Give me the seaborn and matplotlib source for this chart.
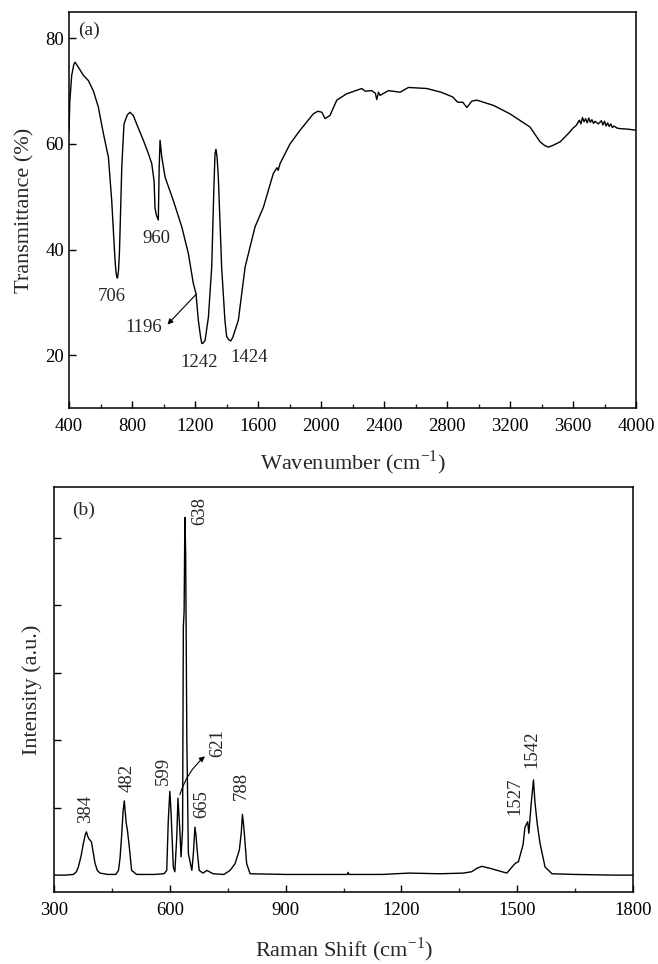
import numpy as np
import pandas as pd
import matplotlib
matplotlib.use("Agg")
import matplotlib.pyplot as plt
import seaborn as sns

# ---------------- data ----------------
ir_wavenumber = [400, 405, 417, 430, 438, 460, 491, 523, 555, 586, 618, 650, 671, 692, 698,
                 703, 708, 714, 720, 735, 749, 770, 787, 808, 840, 872, 900, 925, 940, 946,
                 955, 962, 967, 972, 978, 989, 1010, 1062, 1116, 1158, 1189, 1206, 1221, 1235,
                 1243, 1252, 1264, 1285, 1306, 1320, 1327, 1333, 1340, 1348, 1369, 1390, 1401,
                 1415, 1427, 1440, 1454, 1475, 1518, 1581, 1634, 1697, 1720, 1728,
                 1740, 1803, 1867, 1951, 1980, 2005, 2026, 2057, 2100, 2163, 2259, 2280, 2322,
                 2345, 2354, 2365, 2375, 2428, 2502, 2555, 2672, 2762, 2836, 2868, 2900, 2926,
                 2957, 2989, 3095, 3200, 3327, 3391, 3420, 3444, 3470, 3518, 3571, 3600, 3620,
                 3640, 3650, 3660, 3670, 3680, 3690, 3700, 3710, 3720, 3730, 3740, 3760, 3780,
                 3790, 3800, 3810, 3820, 3830, 3840, 3850, 3860, 3880, 3900, 3950, 4000]
ir_transmittance = [62.5, 68.0, 73.0, 75.0, 75.5, 74.5, 73.0, 72.0, 70.0, 67.0, 62.0, 57.5,
                    49.3, 38.0, 35.8, 34.8, 34.6, 36.0, 39.3, 55.6, 63.8, 65.5, 66.0, 65.4,
                    63.0, 60.7, 58.5, 56.3, 53.0, 47.8, 46.5, 46.0, 45.6, 55.0, 60.7, 57.5,
                    53.7, 49.3, 44.3, 39.2, 33.6, 31.7, 26.6, 23.5, 22.2, 22.3, 22.8, 27.2,
                    36.7, 52.0, 58.2, 59.0, 57.5, 53.7, 36.7, 26.5, 23.5, 22.9, 22.7, 23.4,
                    24.7, 26.6, 36.7, 44.3, 48.0, 54.4, 55.5, 55.0, 56.3, 60.0, 62.6,
                    65.7, 66.2, 66.0, 64.8, 65.4, 68.3, 69.5, 70.5, 70.0, 70.1, 69.6, 68.4,
                    69.8, 69.2, 70.1, 69.8, 70.7, 70.5, 69.8, 68.9, 67.9, 67.9, 66.9, 68.1,
                    68.3, 67.3, 65.7, 63.2, 60.4, 59.7, 59.4, 59.7, 60.4, 62.0, 63.0, 63.5,
                    64.5, 63.8, 65.0, 64.2, 64.8, 64.0, 64.9, 64.1, 64.6, 63.9, 64.3, 63.8,
                    64.4, 63.6, 64.3, 63.4, 64.0, 63.3, 63.8, 63.1, 63.4, 63.0, 62.9, 62.8,
                    62.6]

raman_shift = [300, 330, 350, 358, 363, 370, 376, 381, 384, 387, 390, 393, 397, 402, 406, 412,
               419, 440, 460, 467, 471, 475, 479, 482, 485, 487, 490, 495, 501, 514, 560, 585,
               592, 596, 600, 603, 605, 609, 613, 618, 621, 624, 626, 629, 633, 635, 637, 639,
               641, 644, 648, 657, 661, 665, 668, 670, 676, 686, 696, 712, 740, 756, 769, 780,
               785, 788, 791, 793, 799, 808, 900, 1000, 1060, 1062, 1064, 1150, 1220, 1300,
               1360, 1382, 1395, 1408, 1430, 1473, 1494, 1503, 1515, 1520, 1527, 1530, 1536,
               1542, 1546, 1552, 1559, 1572, 1590, 1650, 1750, 1800]
raman_intensity = [0.0, 0.0, 0.01, 0.05, 0.12, 0.28, 0.47, 0.60, 0.64, 0.58, 0.54, 0.52,
                   0.49, 0.32, 0.18, 0.07, 0.03, 0.01, 0.01, 0.07, 0.25, 0.57, 0.95, 1.10,
                   0.90, 0.77, 0.67, 0.42, 0.07, 0.01, 0.01, 0.02, 0.07, 0.81, 1.24, 0.95,
                   0.67, 0.12, 0.05, 0.57, 1.14, 0.85, 0.67, 0.27, 0.67, 3.68, 3.90, 5.30,
                   4.77, 2.05, 0.32, 0.07, 0.32, 0.71, 0.58, 0.42, 0.07, 0.03, 0.07, 0.02,
                   0.01, 0.07, 0.17, 0.37, 0.62, 0.90, 0.75, 0.62, 0.17, 0.02, 0.01, 0.01,
                   0.01, 0.04, 0.01, 0.01, 0.03, 0.02, 0.03, 0.05, 0.10, 0.13, 0.10, 0.03,
                   0.17, 0.20, 0.45, 0.71, 0.79, 0.62, 1.05, 1.41, 1.07, 0.75, 0.47, 0.12,
                   0.02, 0.01, 0.0, 0.0]

ir_labels = ["706", "960", "1196", "1242", "1424"]
raman_labels = ["384", "482", "599", "621", "638", "665", "788", "1527", "1542"]

ir_df = pd.DataFrame({"wavenumber": ir_wavenumber, "T": ir_transmittance})
ra_df = pd.DataFrame({"shift": raman_shift, "I": raman_intensity})

# ---------------- style ----------------
sns.set_style("ticks")
plt.rcParams["font.family"] = ["Liberation Serif", "DejaVu Serif"]
plt.rcParams["mathtext.fontset"] = "custom"
plt.rcParams["mathtext.rm"] = "Liberation Serif"
plt.rcParams["xtick.direction"] = "in"
plt.rcParams["ytick.direction"] = "in"

fig = plt.figure(figsize=(6.58, 9.64), dpi=100)
ax1 = fig.add_axes([0.1049, 0.5768, 0.8617, 0.4108])
ax2 = fig.add_axes([0.0821, 0.0747, 0.8800, 0.4201])

for ax in (ax1, ax2):
    for s in ax.spines.values():
        s.set_linewidth(1.1)
        s.set_color("black")
    ax.tick_params(which="major", length=5, width=1.0, labelsize=13.5, colors="black")
    ax.tick_params(which="minor", length=3, width=1.0)

# ---------------- panel (a) ----------------
sns.lineplot(data=ir_df, x="wavenumber", y="T", ax=ax1, color="black", lw=1.0, sort=False)
ax1.set_xlim(400, 4000)
ax1.set_ylim(10, 85)
ax1.set_xticks(np.arange(400, 4001, 400))
ax1.set_xticks(np.arange(600, 4000, 400), minor=True)
ax1.set_yticks([20, 40, 60, 80])
ax1.tick_params(axis="x", pad=7)
ax1.set_xlabel("Wavenumber (cm$^{-1}$)", fontsize=16)
ax1.set_ylabel("Transmittance (%)", fontsize=16)
ax1.xaxis.set_label_coords(0.5, -0.139)
ax1.xaxis.label.set_va("center")
ax1.yaxis.set_label_coords(-0.078, 0.5)
ax1.yaxis.label.set_va("center")

ax1.text(527, 81.5, "(a)", fontsize=14, ha="center", va="center")
fs = 13.5
ax1.text(673, 31.2, ir_labels[0], fontsize=fs, ha="center", va="center")
ax1.text(952, 42.1, ir_labels[1], fontsize=fs, ha="center", va="center")
ax1.text(876, 25.3, ir_labels[2], fontsize=fs, ha="center", va="center")
ax1.text(1225, 18.7, ir_labels[3], fontsize=fs, ha="center", va="center")
ax1.text(1543, 19.6, ir_labels[4], fontsize=fs, ha="center", va="center")
ax1.annotate("", xy=(1025, 25.8), xytext=(1206, 31.5),
             arrowprops=dict(arrowstyle="-|>", color="black", lw=0.8,
                             mutation_scale=8, shrinkA=0, shrinkB=0))

# ---------------- panel (b) ----------------
sns.lineplot(data=ra_df, x="shift", y="I", ax=ax2, color="black", lw=1.0, sort=False)
ax2.set_xlim(300, 1800)
ax2.set_ylim(-0.25, 5.75)
ax2.set_xticks(np.arange(300, 1801, 300))
ax2.set_xticks(np.arange(450, 1800, 300), minor=True)
ax2.set_yticks([1, 2, 3, 4, 5])
ax2.set_yticklabels([])
ax2.tick_params(axis="x", pad=7)
ax2.set_xlabel("Raman Shift (cm$^{-1}$)", fontsize=16)
ax2.set_ylabel("Intensity (a.u.)", fontsize=16)
ax2.xaxis.set_label_coords(0.5, -0.143)
ax2.xaxis.label.set_va("center")
ax2.yaxis.set_label_coords(-0.038, 0.5)
ax2.yaxis.label.set_va("center")

ax2.text(376, 5.41, "(b)", fontsize=14, ha="center", va="center")
rl_pos = [(383, 0.77), (490, 1.23), (582, 1.33), (724, 1.75), (678, 5.19),
          (682, 0.84), (784, 1.11), (1494, 0.89), (1539, 1.59)]
for lab, (x, y) in zip(raman_labels, rl_pos):
    ax2.text(x, y, lab, fontsize=fs, rotation=90, ha="center", va="bottom")
ax2.annotate("", xy=(691, 1.76), xytext=(626, 1.19),
             arrowprops=dict(arrowstyle="-|>", color="black", lw=0.8,
                             mutation_scale=8, shrinkA=0, shrinkB=0,
                             connectionstyle="arc3,rad=-0.15"))

fig.savefig("out.png", dpi=100)
